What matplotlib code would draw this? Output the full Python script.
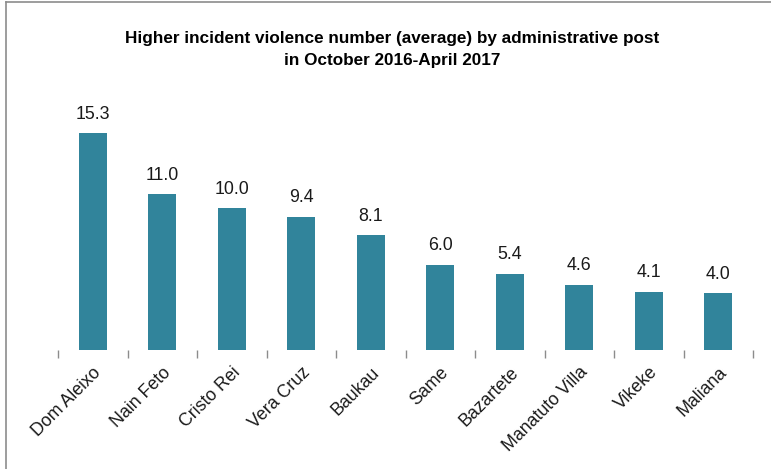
import matplotlib
matplotlib.use("Agg")
import matplotlib.pyplot as plt
from matplotlib.lines import Line2D

# data
posts = ["Dom Aleixo", "Nain Feto", "Cristo Rei", "Vera Cruz", "Baukau",
         "Same", "Bazartete", "Manatuto Villa", "Vikeke", "Maliana"]
values = [15.3, 11.0, 10.0, 9.4, 8.1, 6.0, 5.4, 4.6, 4.1, 4.0]

bar_color = "#31849b"
W, H = 771, 469

fig = plt.figure(figsize=(W / 100, H / 100), dpi=100)
fig.patch.set_facecolor("white")

# axes placed in pixel terms
left, right, bottom, top = 58, 753, 350, 95
ax = fig.add_axes([left / W, (H - bottom) / H, (right - left) / W, (bottom - top) / H])

x = list(range(len(posts)))
ax.bar(x, values, width=0.40, color=bar_color, zorder=2)

for xi, v in zip(x, values):
    ax.text(xi, v + 0.75, f"{v:.1f}", ha="center", va="bottom",
            fontsize=12.8, family="Liberation Sans", color="#1a1a1a")

ax.set_xlim(-0.5, len(posts) - 0.5)
ax.set_ylim(0, 18)
ax.set_yticks([])
for s in ["top", "right", "left", "bottom"]:
    ax.spines[s].set_visible(False)

# category boundary ticks
ax.set_xticks([i - 0.5 for i in range(len(posts) + 1)], minor=False)
ax.set_xticklabels([""] * (len(posts) + 1))
ax.tick_params(axis="x", which="major", length=6, width=1, color="#8c8c8c", pad=0)
ax.set_xticks(x, minor=True)
ax.set_xticklabels(posts, minor=True, rotation=45, ha="right",
                   rotation_mode="anchor", fontsize=12.8, family="Liberation Sans",
                   color="#1a1a1a")
ax.tick_params(axis="x", which="minor", length=0, pad=10)

fig.text(392 / W, 1 - 38 / H, "Higher incident violence number (average) by administrative post",
         ha="center", va="center", fontsize=12.3, fontweight="bold", family="Liberation Sans")
fig.text(392 / W, 1 - 60 / H, "in October 2016-April 2017",
         ha="center", va="center", fontsize=12.3, fontweight="bold", family="Liberation Sans")

# frame edges of the original chart box
fig.add_artist(Line2D([6 / W, 1], [1 - 2.5 / H, 1 - 2.5 / H], color="#8c8c8c", lw=1.2))
fig.add_artist(Line2D([6 / W, 6 / W], [0, 1 - 2.5 / H], color="#8c8c8c", lw=1.2))

fig.savefig("out.png", dpi=100)
